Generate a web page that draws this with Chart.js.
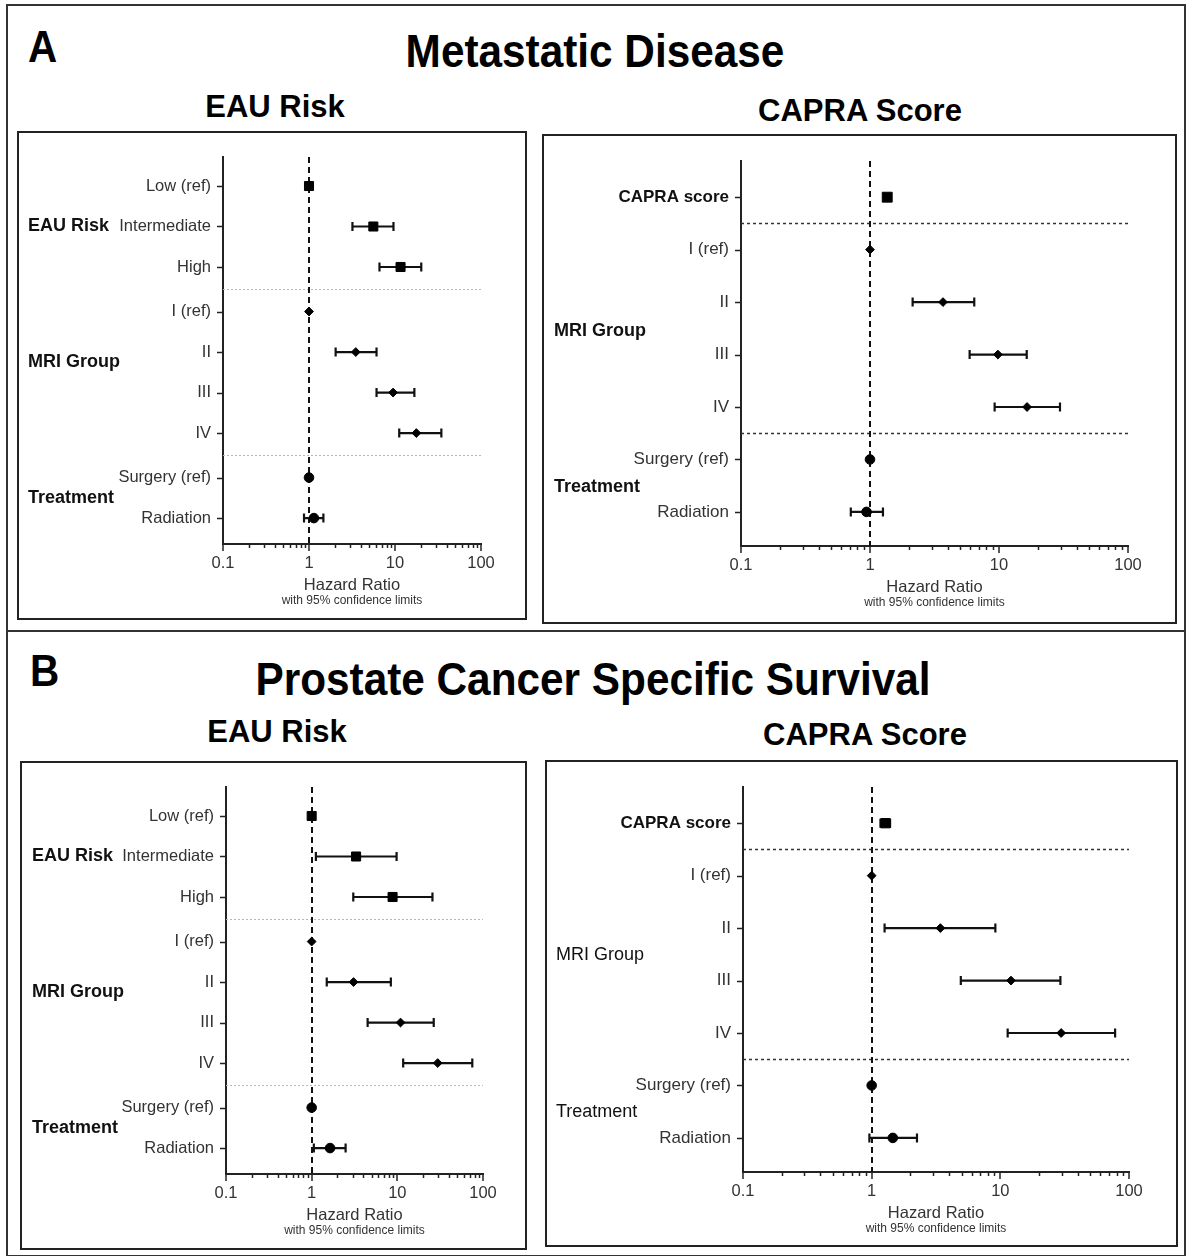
<!DOCTYPE html>
<html>
<head>
<meta charset="utf-8">
<script src="https://cdn.jsdelivr.net/npm/chart.js@4.4.1/dist/chart.umd.min.js"></script>
<style>
  body { margin: 0; background: #fff; width: 1186px; height: 1256px; position: relative; overflow: hidden;
         font-family: 'Liberation Sans', Arial, sans-serif; }
  .frame { position: absolute; border: 2px solid #333; box-sizing: border-box; }
  .box { position: absolute; border: 2px solid #222; box-sizing: border-box; pointer-events: none; }
  .txt { position: absolute; font-weight: bold; line-height: 1; white-space: nowrap; color: #000; }
  .ctr { text-align: center; width: 800px; }
  canvas { position: absolute; }
</style>
</head>
<body>
<div class="frame" style="left:6px;top:4px;width:1180px;height:1253px"></div>
<div class="frame" style="left:6px;top:630px;width:1180px;height:2px;border-width:1px"></div>

<div class="txt" style="left:28px;top:25px;font-size:44px;transform:scaleX(0.92);transform-origin:left">A</div>
<div class="txt ctr" style="left:195px;top:28px;font-size:46px;transform:scaleX(0.92)">Metastatic Disease</div>
<div class="txt ctr" style="left:-125px;top:91px;font-size:31px">EAU Risk</div>
<div class="txt ctr" style="left:460px;top:95px;font-size:31px">CAPRA Score</div>

<div class="txt" style="left:30px;top:649px;font-size:44px;transform:scaleX(0.92);transform-origin:left">B</div>
<div class="txt ctr" style="left:193px;top:656px;font-size:46px;transform:scaleX(0.92)">Prostate Cancer Specific Survival</div>
<div class="txt ctr" style="left:-123px;top:716px;font-size:31px">EAU Risk</div>
<div class="txt ctr" style="left:465px;top:719px;font-size:31px">CAPRA Score</div>

<script>
// Row labels
const eauRows = ['Low (ref)', 'Intermediate', 'High', 'I (ref)', 'II', 'III', 'IV', 'Surgery (ref)', 'Radiation'];
const eauGroupOf = [0, 0, 0, 1, 1, 1, 1, 2, 2];
const eauGroupNames = ['EAU Risk', 'MRI Group', 'Treatment'];

const capraRows = ['CAPRA score', 'I (ref)', 'II', 'III', 'IV', 'Surgery (ref)', 'Radiation'];
const capraGroupOf = [0, 1, 1, 1, 1, 2, 2];
const capraGroupNames = ['MRI Group', 'Treatment'];

// A - Metastatic disease, EAU risk model (hazard ratio, 95% CI)
const metEauHR = [1, 5.6, 11.6, 1, 3.5, 9.5, 17.7, 1, 1.14];
const metEauLo = [null, 3.2, 6.6, null, 2.04, 6.1, 11.2, null, 0.875];
const metEauHi = [null, 9.6, 20.2, null, 6.1, 16.8, 34.6, null, 1.47];

// A - Metastatic disease, CAPRA score model
const metCapraHR = [1.36, 1, 3.68, 9.8, 16.5, 1, 0.94];
const metCapraLo = [null, null, 2.14, 5.92, 9.25, null, 0.71];
const metCapraHi = [null, null, 6.43, 16.4, 29.7, null, 1.26];

// B - Prostate cancer specific survival, EAU risk model
const pcssEauHR = [1, 3.3, 8.8, 1, 3.08, 10.9, 29.6, 1, 1.64];
const pcssEauLo = [null, 1.12, 3.06, null, 1.5, 4.5, 11.7, null, 1.06];
const pcssEauHi = [null, 9.8, 25.7, null, 8.4, 26.6, 75, null, 2.49];

// B - Prostate cancer specific survival, CAPRA score model
const pcssCapraHR = [1.28, 1, 3.42, 12.1, 29.7, 1, 1.46];
const pcssCapraLo = [1.17, null, 1.26, 4.93, 11.4, null, 0.96];
const pcssCapraHi = [1.39, null, 9.15, 29.3, 78, null, 2.25];

// x axis ticks
const xMajorTicks = [0.1, 1, 10, 100];
const xMinorTicks = [0.2, 0.3, 0.4, 0.5, 0.6, 0.7, 0.8, 0.9, 2, 3, 4, 5, 6, 7, 8, 9, 20, 30, 40, 50, 60, 70, 80, 90];

const FONT = "'Liberation Sans', Arial, sans-serif";
const markerStyles = ['rect', 'rectRot', 'circle'];

const panels = [
  { box: [17, 131, 510, 489], plot: [223, 481, 157, 544], rows: eauRows, groupOf: eauGroupOf, gap: 0.1,
    hr: metEauHR, lo: metEauLo, hi: metEauHi, yMin: -0.716, yMax: 8.84,
    groups: eauGroupNames, groupPos: [1, 4.35, 7.7], groupX: 28, groupBold: true, boldTicks: [],
    tickSize: 16.5, lightSep: true, sqR: 6.4 },
  { box: [542, 134, 635, 490], plot: [741, 1128, 161, 546], rows: capraRows, groupOf: capraGroupOf, gap: 0,
    hr: metCapraHR, lo: metCapraLo, hi: metCapraHi, yMin: -0.69, yMax: 6.65,
    groups: capraGroupNames, groupPos: [2.55, 5.52], groupX: 554, groupBold: true, boldTicks: [0],
    tickSize: 17, lightSep: false, sqR: 7 },
  { box: [20, 761, 507, 489], plot: [226, 483, 787, 1174], rows: eauRows, groupOf: eauGroupOf, gap: 0.1,
    hr: pcssEauHR, lo: pcssEauLo, hi: pcssEauHi, yMin: -0.716, yMax: 8.84,
    groups: eauGroupNames, groupPos: [1, 4.35, 7.7], groupX: 32, groupBold: true, boldTicks: [],
    tickSize: 16.5, lightSep: true, sqR: 6.4 },
  { box: [545, 760, 633, 487], plot: [743, 1129, 787, 1172], rows: capraRows, groupOf: capraGroupOf, gap: 0,
    hr: pcssCapraHR, lo: pcssCapraLo, hi: pcssCapraHi, yMin: -0.69, yMax: 6.65,
    groups: capraGroupNames, groupPos: [2.51, 5.5], groupX: 556, groupBold: false, boldTicks: [0],
    tickSize: 17, lightSep: false, sqR: 6.6 }
];

// Error bars, reference line, separators, tick marks and group labels
const forestPlugin = {
  id: 'forest',
  beforeDatasetsDraw(chart) {
    const p = chart.options.plugins.forest;
    const { ctx, chartArea: a, scales: { x, y } } = chart;
    ctx.save();
    // separators between groups
    ctx.strokeStyle = p.lightSep ? '#b8b8b8' : '#333';
    ctx.lineWidth = p.lightSep ? 1 : 1.5;
    ctx.setLineDash(p.lightSep ? [2, 2] : [3, 3]);
    p.seps.forEach(v => {
      const py = Math.round(y.getPixelForValue(v)) + 0.5;
      ctx.beginPath(); ctx.moveTo(a.left, py); ctx.lineTo(a.right, py); ctx.stroke();
    });
    // dashed line at HR = 1
    ctx.strokeStyle = '#111'; ctx.lineWidth = 2; ctx.setLineDash([6, 4]);
    const x1 = Math.round(x.getPixelForValue(1));
    ctx.beginPath(); ctx.moveTo(x1, a.top); ctx.lineTo(x1, a.bottom); ctx.stroke();
    // confidence intervals
    ctx.setLineDash([]); ctx.lineWidth = 2.2; ctx.strokeStyle = '#111';
    p.lo.forEach((lo, i) => {
      if (lo == null) return;
      const py = y.getPixelForValue(p.pos[i]);
      const xl = x.getPixelForValue(lo), xh = x.getPixelForValue(p.hi[i]);
      ctx.beginPath();
      ctx.moveTo(xl, py); ctx.lineTo(xh, py);
      ctx.moveTo(xl, py - 4.5); ctx.lineTo(xl, py + 4.5);
      ctx.moveTo(xh, py - 4.5); ctx.lineTo(xh, py + 4.5);
      ctx.stroke();
    });
    ctx.restore();
  },
  afterDraw(chart) {
    const p = chart.options.plugins.forest;
    const { ctx, chartArea: a, scales: { x, y } } = chart;
    ctx.save();
    ctx.strokeStyle = '#222'; ctx.lineWidth = 1.5;
    // x tick marks
    xMajorTicks.forEach(v => {
      const px = Math.round(x.getPixelForValue(v));
      ctx.beginPath(); ctx.moveTo(px, a.bottom); ctx.lineTo(px, a.bottom + 7); ctx.stroke();
    });
    xMinorTicks.forEach(v => {
      const px = Math.round(x.getPixelForValue(v)) + 0.5;
      ctx.beginPath(); ctx.moveTo(px, a.bottom); ctx.lineTo(px, a.bottom + 4); ctx.stroke();
    });
    // y tick marks
    p.pos.forEach(v => {
      const py = Math.round(y.getPixelForValue(v)) + 0.5;
      ctx.beginPath(); ctx.moveTo(a.left - 6, py); ctx.lineTo(a.left, py); ctx.stroke();
    });
    // group labels
    ctx.fillStyle = '#111';
    ctx.textAlign = 'left'; ctx.textBaseline = 'middle';
    ctx.font = (p.groupBold ? 'bold ' : '') + '18px ' + FONT;
    p.groups.forEach((g, i) => ctx.fillText(g, p.groupX, y.getPixelForValue(p.groupPos[i])));
    // axis title
    const cx = (a.left + a.right) / 2;
    ctx.fillStyle = '#333'; ctx.textAlign = 'center';
    ctx.font = '16.5px ' + FONT;
    ctx.fillText('Hazard Ratio', cx, a.bottom + 41);
    ctx.font = '12px ' + FONT;
    ctx.fillText('with 95% confidence limits', cx, a.bottom + 57);
    ctx.restore();
  }
};

panels.forEach(cfg => {
  const [bx, by, bw, bh] = cfg.box;
  const [pl, pr, pt, pb] = cfg.plot;
  const canvas = document.createElement('canvas');
  canvas.width = bw; canvas.height = bh;
  canvas.style.left = bx + 'px'; canvas.style.top = by + 'px';
  canvas.style.width = bw + 'px'; canvas.style.height = bh + 'px';
  document.body.appendChild(canvas);
  const frame = document.createElement('div');
  frame.className = 'box';
  frame.style.cssText = `left:${bx}px;top:${by}px;width:${bw}px;height:${bh}px`;
  document.body.appendChild(frame);

  const pos = cfg.rows.map((_, i) => i + cfg.gap * cfg.groupOf[i]);
  const seps = [];
  for (let i = 1; i < pos.length; i++) {
    if (cfg.groupOf[i] !== cfg.groupOf[i - 1]) seps.push((pos[i] + pos[i - 1]) / 2);
  }
  const styles = cfg.groupOf.map(g => markerStyles[g]);
  const radii = styles.map(s => s === 'rect' ? cfg.sqR : s === 'rectRot' ? 4.4 : 4.8);

  new Chart(canvas, {
    type: 'scatter',
    data: {
      datasets: [{
        data: cfg.hr.map((v, i) => ({ x: v, y: pos[i] })),
        pointStyle: styles,
        pointRadius: radii,
        pointBackgroundColor: '#000',
        pointBorderColor: '#000',
        pointBorderWidth: 1,
        showLine: false
      }]
    },
    plugins: [forestPlugin],
    options: {
      responsive: false,
      devicePixelRatio: 1,
      animation: false,
      layout: { padding: { left: 0, top: pt - by, right: bx + bw - pr, bottom: 0 } },
      plugins: {
        legend: { display: false },
        tooltip: { enabled: false },
        forest: {
          pos, seps, lo: cfg.lo, hi: cfg.hi, lightSep: cfg.lightSep,
          groups: cfg.groups, groupPos: cfg.groupPos, groupX: cfg.groupX - bx, groupBold: cfg.groupBold
        }
      },
      scales: {
        x: {
          type: 'logarithmic', min: 0.1, max: 100,
          grid: { display: false, drawTicks: false },
          border: { display: true, color: '#222', width: 2 },
          afterBuildTicks: s => { s.ticks = xMajorTicks.map(v => ({ value: v })); },
          afterFit: s => { s.height = by + bh - pb; },
          ticks: {
            autoSkip: false, maxRotation: 0, padding: 10, color: '#333',
            font: { family: FONT, size: 16.5 },
            callback: v => String(v)
          }
        },
        y: {
          type: 'linear', reverse: true, min: cfg.yMin, max: cfg.yMax,
          grid: { display: false, drawTicks: false },
          border: { display: true, color: '#222', width: 2 },
          afterBuildTicks: s => { s.ticks = pos.map(v => ({ value: v })); },
          afterFit: s => { s.width = pl - bx; },
          ticks: {
            autoSkip: false, padding: 12,
            color: c => cfg.boldTicks.includes(c.index) ? '#111' : '#333',
            font: c => ({ family: FONT, size: cfg.tickSize, weight: cfg.boldTicks.includes(c.index) ? 'bold' : 'normal' }),
            callback: (v, i) => cfg.rows[i]
          }
        }
      }
    }
  });
});
</script>
</body>
</html>
